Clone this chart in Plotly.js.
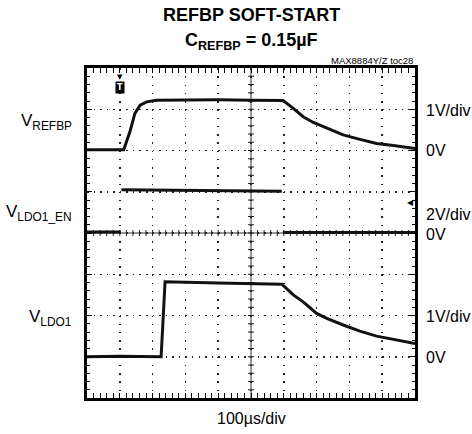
<!DOCTYPE html>
<html><head><meta charset="utf-8">
<script src="https://cdn.plot.ly/plotly-3.0.1.min.js"></script>
<style>
html,body{margin:0;padding:0;background:#fff;}
#chart{width:472px;height:434px;}
</style>
</head><body><div id="chart"></div>
<script>
// time in microseconds (100 us/div), values in volts
const triggerTime = 100;
const refbpTime  = [0, 60, 112, 131, 146, 162, 182, 212, 300, 400, 500, 594, 598, 629, 659, 690, 731, 781, 832, 883, 934, 995, 1000];
const refbpVolts = [0.02, 0.02, 0.02, 0.46, 0.90, 1.10, 1.18, 1.22, 1.23, 1.23, 1.22, 1.22, 1.21, 1.02, 0.82, 0.68, 0.54, 0.38, 0.27, 0.17, 0.12, 0.05, 0.05];
const enTime  = [0, 103, 104, 105, 300, 594, 595, 597, 1000];
const enVolts = [0.05, 0.05, null, 2.10, 2.07, 2.02, null, 0.03, 0.03];
const ldo1Time  = [0, 100, 226, 236, 238, 400, 527, 594, 629, 659, 700, 731, 781, 832, 883, 934, 995, 1000];
const ldo1Volts = [0.0, 0.01, 0.0, 1.80, 1.82, 1.79, 1.78, 1.76, 1.50, 1.33, 1.05, 0.93, 0.77, 0.62, 0.50, 0.42, 0.33, 0.32];

const FONT = '"Liberation Sans", Arial, sans-serif';
const INK = '#111';

const traces = [
  {x: refbpTime, y: refbpVolts, yaxis: 'y', type: 'scatter', mode: 'lines', line: {color: INK, width: 3}, hoverinfo: 'skip'},
  {x: enTime, y: enVolts, yaxis: 'y2', type: 'scatter', mode: 'lines', connectgaps: false, line: {color: INK, width: 3}, hoverinfo: 'skip'},
  {x: ldo1Time, y: ldo1Volts, yaxis: 'y3', type: 'scatter', mode: 'lines', line: {color: INK, width: 3}, hoverinfo: 'skip'}
];

const shapes = [];
// center crosshair
shapes.push({type: 'line', xref: 'paper', yref: 'paper', x0: 0.5, x1: 0.5, y0: 0, y1: 1, line: {color: '#333', width: 1}, layer: 'below'});
shapes.push({type: 'line', xref: 'paper', yref: 'paper', x0: 0, x1: 1, y0: 0.5, y1: 0.5, line: {color: '#333', width: 1}, layer: 'below'});
for (let i = 1; i < 40; i++) {
  shapes.push({type: 'line', xref: 'paper', yref: 'paper', x0: 0.5 - 3/328, x1: 0.5 + 3/328, y0: i/40, y1: i/40, line: {color: '#222', width: 1}, layer: 'below'});
}
for (let i = 1; i < 50; i++) {
  shapes.push({type: 'line', xref: 'paper', yref: 'paper', x0: i/50, x1: i/50, y0: 0.5 - 3/330, y1: 0.5 + 3/330, line: {color: '#222', width: 1}, layer: 'below'});
}

function ann(text, x, y, size, xanchor, opts) {
  return Object.assign({text: text, x: x, y: y, xref: 'paper', yref: 'paper', showarrow: false,
    xanchor: xanchor || 'center', yanchor: 'middle', font: {family: FONT, size: size, color: '#000'}}, opts || {});
}
// paper coords: plot area x 87..415, y 68..398
const px = v => (v - 87) / 328;
const py = v => (398 - v) / 330;

const annotations = [
  ann('<b>REFBP SOFT-START</b>', px(251), py(15), 18),
  ann('<b>C<sub>REFBP</sub> = 0.15µF</b>', px(251), py(42), 18),
  ann('MAX8884Y/Z toc28', 1, py(61), 9.5, 'right'),
  ann('V<sub>REFBP</sub>', px(74), py(122), 17, 'right'),
  ann('V<sub>LDO1_EN</sub>', px(74), py(213), 17, 'right'),
  ann('V<sub>LDO1</sub>', px(74), py(318), 17, 'right'),
  ann('1V/div', px(424), py(110), 16, 'left'),
  ann('0V', px(424), py(150), 16, 'left'),
  ann('2V/div', px(424), py(214), 16, 'left'),
  ann('0V', px(424), py(234), 16, 'left'),
  ann('1V/div', px(424), py(316), 16, 'left'),
  ann('0V', px(424), py(357), 16, 'left'),
  ann('100µs/div', px(251), py(418), 16),
  {text: '<b>T</b>', x: triggerTime, xref: 'x', y: py(81), yref: 'paper', showarrow: false, bgcolor: '#000', borderpad: 1,
   font: {family: 'DejaVu Sans', size: 8, color: '#fff'}},
  {text: '▼', x: triggerTime, xref: 'x', y: py(71), yref: 'paper', showarrow: false, font: {family: 'DejaVu Sans', size: 7, color: '#000'}},
  ann('◂', px(410), py(202), 12, 'center', {font: {family: 'DejaVu Sans', size: 12, color: '#000'}})
];

const gridAxis = {
  showgrid: true, gridcolor: '#222', gridwidth: 1.5, zeroline: false,
  showline: true, linewidth: 3, linecolor: '#000', mirror: 'allticks',
  ticks: 'inside', ticklen: 5, tickwidth: 1, tickcolor: '#000', showticklabels: false, fixedrange: true
};

const layout = {
  width: 472, height: 434,
  margin: {l: 87, r: 57, t: 68, b: 36},
  paper_bgcolor: '#fff', plot_bgcolor: '#fff',
  showlegend: false,
  xaxis: Object.assign({}, gridAxis, {range: [0, 1000], tick0: 0, dtick: 100, griddash: '1.5px,6.75px',
    minor: {dtick: 20, tick0: 0, ticks: 'inside', ticklen: 3, tickwidth: 1, tickcolor: '#000', showgrid: false}}),
  yaxis: Object.assign({}, gridAxis, {range: [-6, 2], tick0: 0, dtick: 1, griddash: '1.5px,5.06px',
    minor: {dtick: 0.2, tick0: 0, ticks: 'inside', ticklen: 3, tickwidth: 1, tickcolor: '#000', showgrid: false}}),
  yaxis2: {range: [-8, 8], overlaying: 'y', visible: false, fixedrange: true},
  yaxis3: {range: [-1, 7], overlaying: 'y', visible: false, fixedrange: true},
  shapes: shapes,
  annotations: annotations
};

Plotly.newPlot('chart', traces, layout, {staticPlot: true, displayModeBar: false});
</script>
</body></html>
